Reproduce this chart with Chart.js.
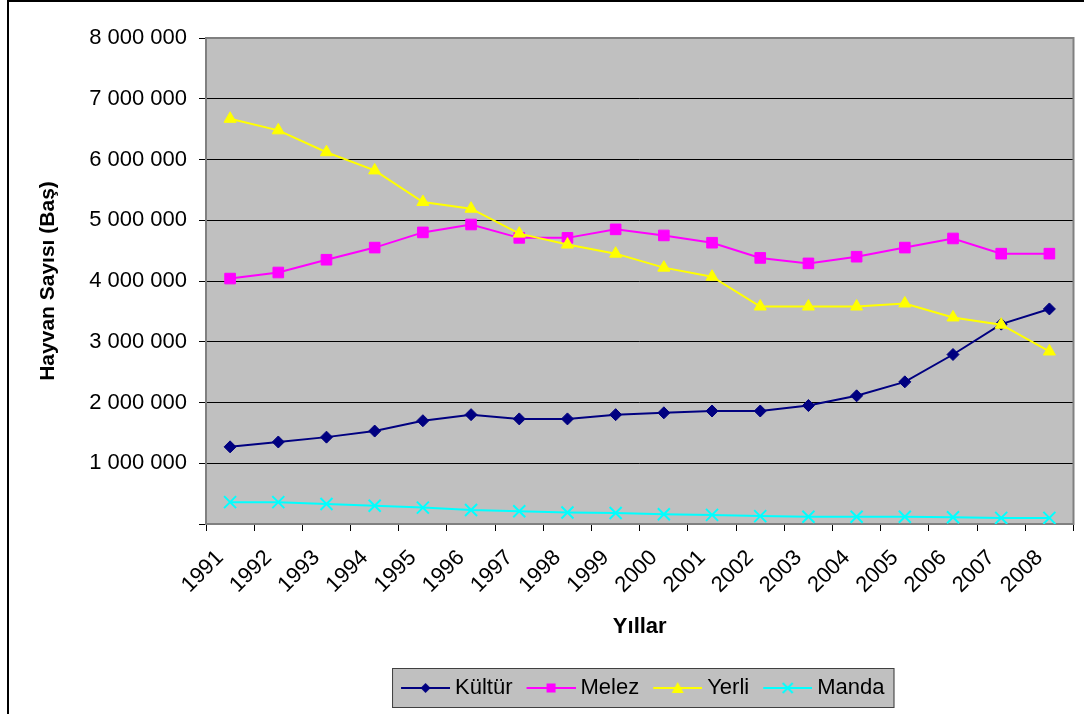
<!DOCTYPE html>
<html>
<head>
<meta charset="utf-8">
<script src="https://cdn.jsdelivr.net/npm/chart.js@4.4.1/dist/chart.umd.min.js"></script>
<style>
  html, body { margin: 0; padding: 0; background: #fff; }
  #wrap { width: 1084px; height: 714px; }
</style>
</head>
<body>
<div id="wrap"><canvas id="chart" width="1084" height="714"></canvas></div>
<script>
// ====== Veriler ======
const years = ["1991","1992","1993","1994","1995","1996","1997","1998","1999",
               "2000","2001","2002","2003","2004","2005","2006","2007","2008"];
const kultur = [1270000,1350000,1430000,1530000,1700000,1800000,1730000,1730000,1800000,
                1830000,1860000,1860000,1950000,2110000,2340000,2790000,3290000,3540000];
const melez  = [4040000,4140000,4350000,4550000,4800000,4930000,4710000,4710000,4850000,
                4750000,4630000,4380000,4290000,4400000,4550000,4700000,4450000,4450000];
const yerli  = [6670000,6480000,6120000,5820000,5300000,5190000,4780000,4600000,4450000,
                4220000,4070000,3580000,3580000,3580000,3630000,3400000,3280000,2840000];
const manda  = [360000,360000,330000,300000,270000,230000,210000,190000,180000,
                160000,150000,130000,120000,120000,120000,110000,100000,100000];
const yTicks = [0,1000000,2000000,3000000,4000000,5000000,6000000,7000000,8000000];

const FONT = "'Liberation Sans', Arial, sans-serif";

// legend ikonu: çizgi + işaret
function legendIcon(color, shape) {
  const c = document.createElement("canvas");
  c.width = 61; c.height = 20;
  const g = c.getContext("2d");
  g.strokeStyle = color; g.fillStyle = color; g.lineWidth = 2;
  g.beginPath(); g.moveTo(12, 10); g.lineTo(61, 10); g.stroke();
  const cx = 36.5, cy = 10;
  g.beginPath();
  if (shape === "diamond") {
    g.moveTo(cx - 5, cy); g.lineTo(cx, cy - 5); g.lineTo(cx + 5, cy); g.lineTo(cx, cy + 5);
    g.closePath(); g.fill();
  } else if (shape === "square") {
    g.rect(cx - 4.5, cy - 4.5, 9, 9); g.fill();
  } else if (shape === "triangle") {
    g.moveTo(cx, cy - 6); g.lineTo(cx + 6, cy + 5); g.lineTo(cx - 6, cy + 5);
    g.closePath(); g.fill();
  } else {
    g.moveTo(cx - 5, cy - 5); g.lineTo(cx + 5, cy + 5);
    g.moveTo(cx + 5, cy - 5); g.lineTo(cx - 5, cy + 5); g.stroke();
  }
  return c;
}

const icons = [
  legendIcon("#000080", "diamond"),
  legendIcon("#ff00ff", "square"),
  legendIcon("#ffff00", "triangle"),
  legendIcon("#00ffff", "cross")
];

function fmt(v) {
  if (v === 0) return "";
  return String(v).replace(/\B(?=(\d{3})+(?!\d))/g, " ");
}

// ====== Plot arka planı, çerçeveler ======
const frames = {
  id: "frames",
  beforeDraw(chart) {
    const { ctx, chartArea: a } = chart;
    ctx.save();
    // dış çerçeve
    ctx.fillStyle = "#000";
    ctx.fillRect(7, 0, 2, chart.height);
    ctx.fillRect(7, 0, chart.width - 7, 2);
    // plot alanı
    ctx.fillStyle = "#c0c0c0";
    ctx.fillRect(a.left, a.top, a.right - a.left, a.bottom - a.top);
    // legend kutusu
    const lg = chart.legend;
    const hb = lg.legendHitBoxes;
    if (hb && hb.length) {
      const last = hb[hb.length - 1];
      const l = hb[0].left - 3;
      const r = last.left + last.width + 10;
      const t = lg.top - 1;
      const b = lg.bottom - 1;
      ctx.fillStyle = "#c0c0c0";
      ctx.fillRect(l, t, r - l, b - t);
      ctx.strokeStyle = "#404040";
      ctx.lineWidth = 1;
      ctx.strokeRect(l + 0.5, t + 0.5, r - l - 1, b - t - 1);
    }
    ctx.restore();
  },
  beforeDatasetsDraw(chart) {
    const { ctx, chartArea: a } = chart;
    ctx.save();
    ctx.strokeStyle = "#808080";
    ctx.lineWidth = 2;
    ctx.strokeRect(a.left, a.top, a.right - a.left, a.bottom - a.top);
    ctx.restore();
  }
};

const ctx = document.getElementById("chart").getContext("2d");
new Chart(ctx, {
  type: "line",
  data: {
    labels: years,
    datasets: [
      { label: "Kültür", data: kultur, borderColor: "#000080", backgroundColor: "#000080",
        pointStyle: "rectRot", pointRadius: 6, pointBorderWidth: 1, order: 1 },
      { label: "Melez", data: melez, borderColor: "#ff00ff", backgroundColor: "#ff00ff",
        pointStyle: "rect", pointRadius: 7.5, pointBorderWidth: 1, order: 2 },
      { label: "Yerli", data: yerli, borderColor: "#ffff00", backgroundColor: "#ffff00",
        pointStyle: "triangle", pointRadius: 7, pointBorderWidth: 1, order: 0 },
      { label: "Manda", data: manda, borderColor: "#00ffff", backgroundColor: "#00ffff",
        pointStyle: "crossRot", pointRadius: 8.5, pointBorderWidth: 2, order: 3 }
    ]
  },
  options: {
    responsive: false,
    animation: false,
    events: [],
    layout: { padding: { left: 0, top: 38, right: 10, bottom: 5 } },
    elements: { line: { borderWidth: 2, tension: 0 } },
    plugins: {
      tooltip: { enabled: false },
      legend: {
        position: "bottom",
        fullSize: false,
        labels: {
          font: { family: FONT, size: 22 },
          color: "#000",
          usePointStyle: true,
          pointStyleWidth: 49,
          padding: 8,
          sort: (a, b) => a.datasetIndex - b.datasetIndex,
          generateLabels(chart) {
            const items = Chart.defaults.plugins.legend.labels.generateLabels(chart);
            items.forEach(it => { it.pointStyle = icons[it.datasetIndex]; });
            return items;
          }
        }
      }
    },
    scales: {
      x: {
        offset: true,
        afterFit(s) { s.height = 145; },
        border: { display: false },
        grid: { offset: true, drawOnChartArea: false, drawTicks: true, tickLength: 7, color: "#000" },
        ticks: {
          autoSkip: false, minRotation: 45, maxRotation: 45, padding: 14, labelOffset: -10,
          color: "#000", font: { family: FONT, size: 22 }
        },
        title: {
          display: true, text: "Yıllar", color: "#000",
          font: { family: FONT, size: 22, weight: "bold" },
          padding: { top: 0, bottom: 29 }
        }
      },
      y: {
        min: 0, max: 8000000,
        afterFit(s) { s.width = 206; },
        afterBuildTicks(s) { s.ticks = yTicks.map(v => ({ value: v })); },
        border: { display: false },
        grid: { color: "#000", lineWidth: 1, drawTicks: true, tickLength: 7 },
        ticks: {
          padding: 12, color: "#000", font: { family: FONT, size: 22 },
          callback: v => fmt(v)
        },
        title: {
          display: true, text: "Hayvan Sayısı (Baş)", color: "#000",
          font: { family: FONT, size: 21, weight: "bold" },
          padding: { top: 36, bottom: 0 }
        }
      }
    }
  },
  plugins: [frames]
});
</script>
</body>
</html>
